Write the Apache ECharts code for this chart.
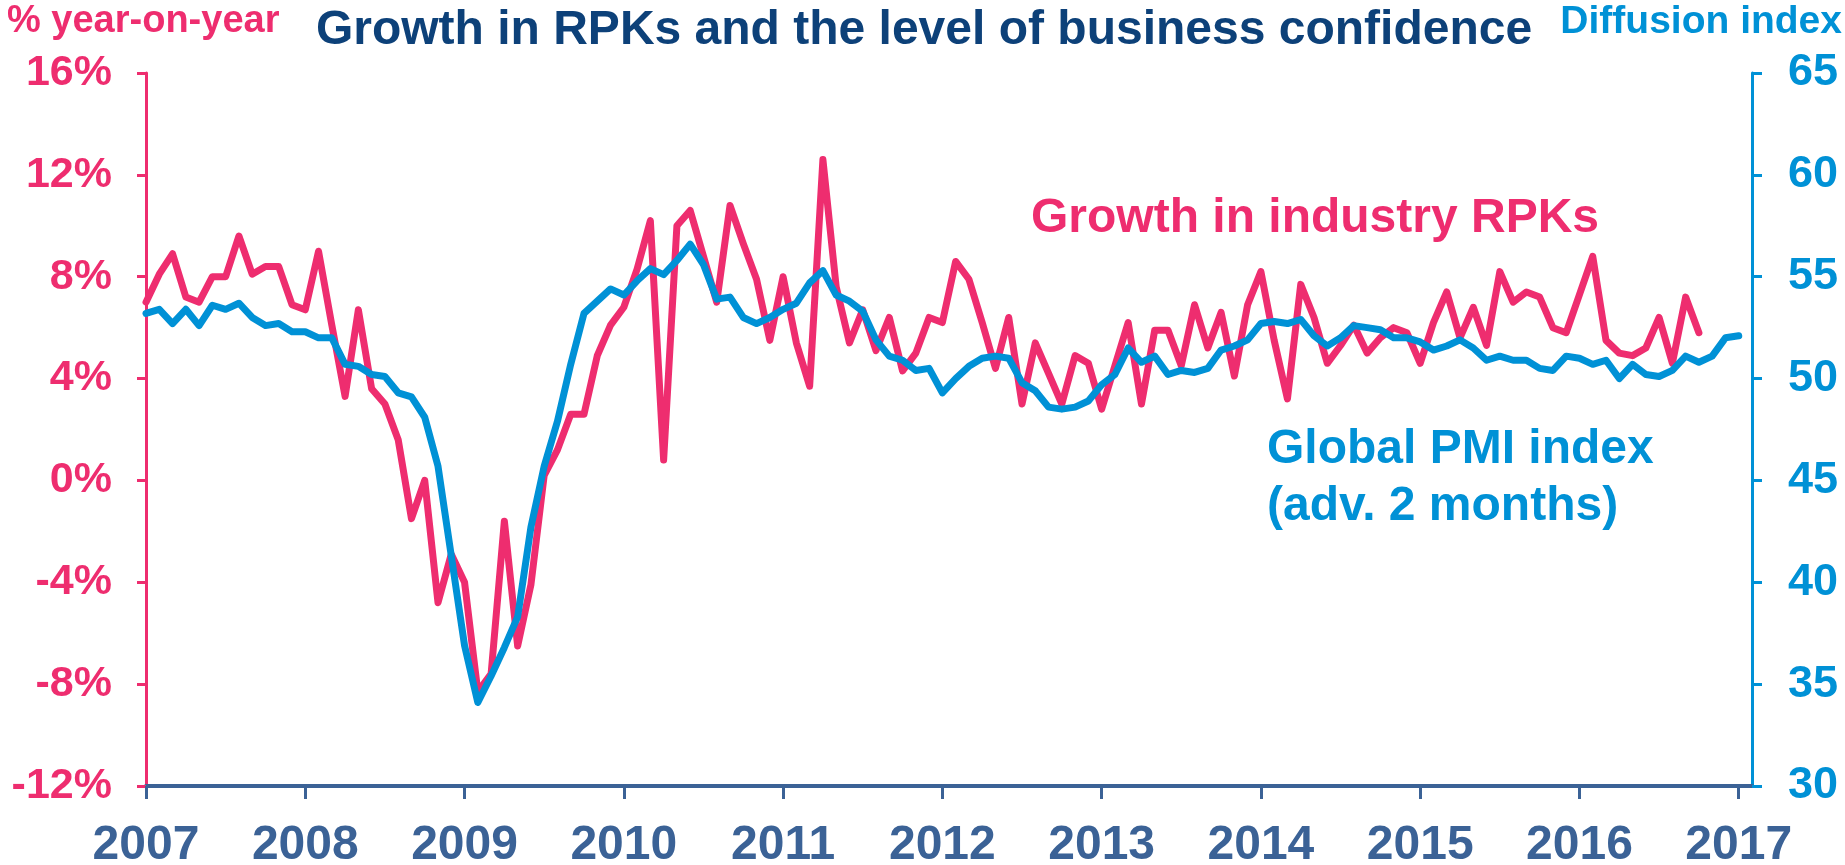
<!DOCTYPE html>
<html>
<head>
<meta charset="utf-8">
<script src="https://cdn.jsdelivr.net/npm/echarts@6.0.0/dist/echarts.min.js"></script>
<style>
html,body{margin:0;padding:0;background:#fff;}
#chart{width:1845px;height:865px;}
</style>
</head>
<body>
<div id="chart"></div>
<script>
// ---- Data ----
const years = ['2007','2008','2009','2010','2011','2012','2013','2014','2015','2016','2017'];
const monthNames = ['01','02','03','04','05','06','07','08','09','10','11','12'];

// Growth in industry RPKs, % year-on-year, monthly Jan 2007 - Oct 2016
const rpkGrowth = [
  7.0, 8.1, 8.9, 7.2, 7.0, 8.0, 8.0, 9.6, 8.1, 8.4, 8.4, 6.9,
  6.7, 9.0, 6.1, 3.3, 6.7, 3.6, 3.0, 1.6, -1.5, 0.0, -4.8, -2.9,
  -4.0, -8.3, -7.6, -1.6, -6.5, -4.1, 0.2, 1.2, 2.6, 2.6, 4.9, 6.1,
  6.8, 8.3, 10.2, 0.8, 10.0, 10.6, 8.8, 7.0, 10.8, 9.3, 7.9, 5.5,
  8.0, 5.4, 3.7, 12.6, 7.6, 5.4, 6.7, 5.1, 6.4, 4.3, 5.0, 6.4,
  6.2, 8.6, 7.9, 6.2, 4.4, 6.4, 3.0, 5.4, 4.2, 3.0, 4.9, 4.6,
  2.8, 4.5, 6.2, 3.0, 5.9, 5.9, 4.5, 6.9, 5.2, 6.6, 4.1, 6.9,
  8.2, 5.5, 3.2, 7.7, 6.4, 4.6, 5.3, 6.1, 5.0, 5.6, 6.0, 5.8,
  4.6, 6.2, 7.4, 5.6, 6.8, 5.3, 8.2, 7.0, 7.4, 7.2, 6.0, 5.8,
  7.3, 8.8, 5.5, 5.0, 4.9, 5.2, 6.4, 4.6, 7.2, 5.8
];

// Global PMI index (advanced 2 months), diffusion index, Jan 2007 - Jan 2017
const globalPmi = [
  53.2, 53.4, 52.7, 53.4, 52.6, 53.6, 53.4, 53.7, 53.0, 52.6, 52.7, 52.3,
  52.3, 52.0, 52.0, 50.7, 50.6, 50.2, 50.1, 49.3, 49.1, 48.1, 45.7, 41.3,
  36.9, 34.1, 35.4, 36.8, 38.3, 42.7, 45.7, 47.9, 50.7, 53.2, 53.8, 54.4,
  54.1, 54.8, 55.4, 55.1, 55.8, 56.6, 55.6, 53.9, 54.0, 53.0, 52.7, 53.0,
  53.4, 53.7, 54.7, 55.3, 54.1, 53.8, 53.3, 51.9, 51.1, 50.9, 50.4, 50.5,
  49.3, 50.0, 50.6, 51.0, 51.1, 51.0, 49.8, 49.4, 48.6, 48.5, 48.6, 48.9,
  49.7, 50.2, 51.5, 50.8, 51.1, 50.2, 50.4, 50.3, 50.5, 51.4, 51.6, 51.9,
  52.7, 52.8, 52.7, 52.9, 52.1, 51.6, 52.0, 52.6, 52.5, 52.4, 52.0, 52.0,
  51.8, 51.4, 51.6, 51.9, 51.5, 50.9, 51.1, 50.9, 50.9, 50.5, 50.4, 51.1,
  51.0, 50.7, 50.9, 50.0, 50.7, 50.2, 50.1, 50.4, 51.1, 50.8, 51.1, 52.0,
  52.1
];

// Monthly categories Jan 2007 .. Feb 2017
const categories = [];
years.forEach(y => monthNames.forEach(m => categories.push(y + '-' + m)));
categories.length = 122;

const PINK = '#EE2D6F';
const BLUE = '#0091D6';
const NAVY = '#0D4179';
const AXISBLUE = '#3B6296';
const FONT = '"Liberation Sans", Arial, sans-serif';

const chart = echarts.init(document.getElementById('chart'), null, {renderer: 'canvas'});
chart.setOption({
  animation: false,
  backgroundColor: '#ffffff',
  grid: {left: 146, right: 93, top: 73, bottom: 79, containLabel: false, outerBoundsMode: 'none'},
  xAxis: {
    type: 'category',
    data: categories,
    boundaryGap: false,
    axisLine: {show: true, onZero: false, lineStyle: {color: AXISBLUE, width: 4}},
    axisTick: {show: true, length: 13, interval: (i) => i % 12 === 0, lineStyle: {color: AXISBLUE, width: 3}},
    axisLabel: {
      interval: (i) => i % 12 === 0,
      formatter: (v) => v.slice(0, 4),
      color: AXISBLUE, fontFamily: FONT, fontWeight: 'bold', fontSize: 48, margin: 36
    },
    splitLine: {show: false}
  },
  yAxis: [
    {
      type: 'value', position: 'left', min: -12, max: 16, interval: 4,
      axisLine: {show: true, lineStyle: {color: PINK, width: 3}},
      axisTick: {show: true, length: 9, lineStyle: {color: PINK, width: 3}},
      axisLabel: {formatter: (v) => v + '%', color: PINK, fontFamily: FONT, fontWeight: 'bold', fontSize: 43, margin: 34},
      splitLine: {show: false}
    },
    {
      type: 'value', position: 'right', min: 30, max: 65, interval: 5,
      axisLine: {show: true, lineStyle: {color: BLUE, width: 3}},
      axisTick: {show: true, length: 10, lineStyle: {color: BLUE, width: 3}},
      axisLabel: {color: BLUE, fontFamily: FONT, fontWeight: 'bold', fontSize: 45, margin: 36},
      splitLine: {show: false}
    }
  ],
  series: [
    {
      name: 'Growth in industry RPKs', type: 'line', yAxisIndex: 0,
      data: rpkGrowth, symbol: 'none', smooth: false,
      lineStyle: {color: PINK, width: 7, cap: 'round', join: 'round'},
      z: 2
    },
    {
      name: 'Global PMI index (adv. 2 months)', type: 'line', yAxisIndex: 1,
      data: globalPmi, symbol: 'none', smooth: false,
      lineStyle: {color: BLUE, width: 7, cap: 'round', join: 'round'},
      z: 3
    }
  ],
  graphic: [
    {type: 'text', x: 7, y: 22, style: {text: '% year-on-year', fill: PINK, font: 'bold 38px ' + FONT, textAlign: 'left', textVerticalAlign: 'middle', verticalAlign: 'middle'}},
    {type: 'text', x: 924, y: 31, style: {text: 'Growth in RPKs and the level of business confidence', fill: NAVY, font: 'bold 48px ' + FONT, textAlign: 'center', textVerticalAlign: 'middle', verticalAlign: 'middle'}},
    {type: 'text', x: 1842, y: 22, style: {text: 'Diffusion index', fill: BLUE, font: 'bold 39px ' + FONT, textAlign: 'right', textVerticalAlign: 'middle', verticalAlign: 'middle'}},
    {type: 'text', x: 1031, y: 219, style: {text: 'Growth in industry RPKs', fill: PINK, font: 'bold 48px ' + FONT, textAlign: 'left', textVerticalAlign: 'middle', verticalAlign: 'middle'}},
    {type: 'text', x: 1267, y: 450, style: {text: 'Global PMI index', fill: BLUE, font: 'bold 48px ' + FONT, textAlign: 'left', textVerticalAlign: 'middle', verticalAlign: 'middle'}},
    {type: 'text', x: 1267, y: 507, style: {text: '(adv. 2 months)', fill: BLUE, font: 'bold 48px ' + FONT, textAlign: 'left', textVerticalAlign: 'middle', verticalAlign: 'middle'}}
  ]
});
</script>
</body>
</html>
